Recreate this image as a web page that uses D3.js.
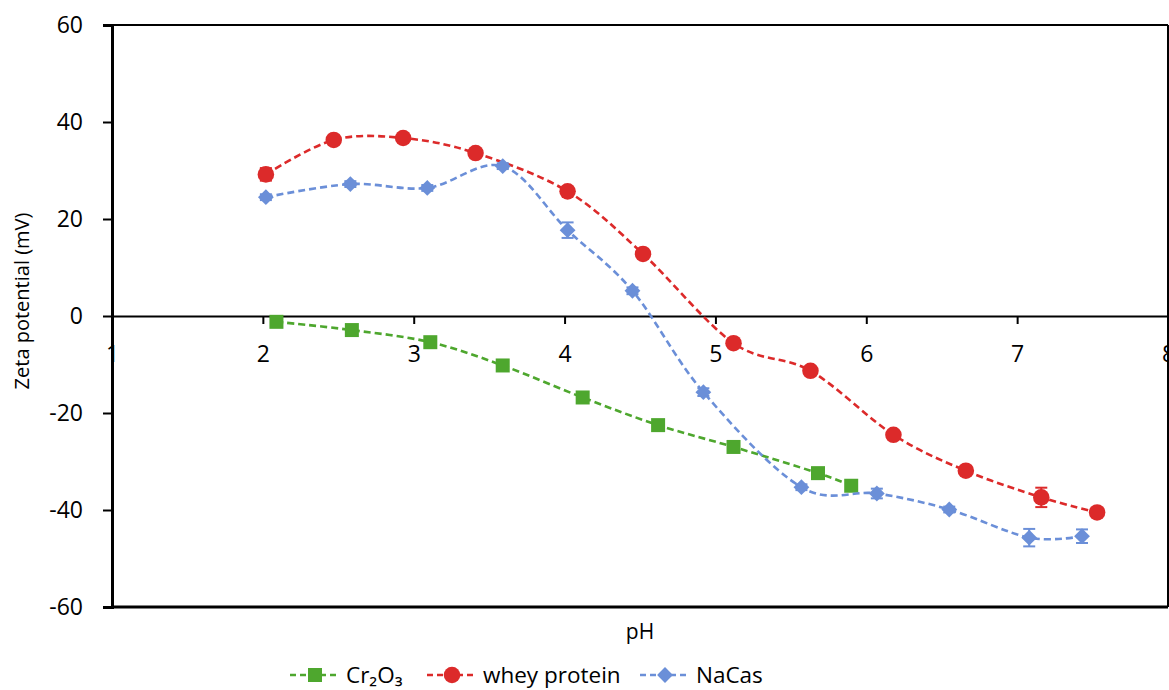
<!DOCTYPE html>
<html>
<head>
<meta charset="utf-8">
<script src="https://cdn.jsdelivr.net/npm/d3@7/dist/d3.min.js"></script>
<style>
  html, body { margin: 0; padding: 0; background: #fff; overflow: hidden; }
  svg { display: block; font-family: "Open Sans", "Noto Sans", sans-serif; }
</style>
</head>
<body>
<svg id="chart" width="1169" height="690"></svg>
<script>
// Zeta potential vs pH for three materials (mean ± SD)
const xTicks = [1, 2, 3, 4, 5, 6, 7, 8];
const yTicks = [-60, -40, -20, 0, 20, 40, 60];

const crPH   = [2.09, 2.59, 3.11, 3.59, 4.12, 4.62, 5.12, 5.68, 5.90];
const crZeta = [-1.2, -2.9, -5.4, -10.2, -16.8, -22.5, -27.0, -32.4, -35.0];
const crErr  = [0.6, 0.7, 0.8, 0.6, 0.7, 0.6, 0.6, 0.7, 0.6];

const wheyPH   = [2.02, 2.47, 2.93, 3.41, 4.02, 4.52, 5.12, 5.63, 6.18, 6.66, 7.16, 7.53];
const wheyZeta = [29.2, 36.3, 36.7, 33.6, 25.7, 12.8, -5.6, -11.3, -24.5, -31.9, -37.4, -40.5];
const wheyErr  = [1.3, 0.6, 0.6, 0.5, 0.6, 0.6, 0.6, 0.7, 0.6, 0.7, 2.0, 0.6];

const nacasPH   = [2.02, 2.58, 3.09, 3.59, 4.02, 4.45, 4.92, 5.57, 6.07, 6.55, 7.08, 7.43];
const nacasZeta = [24.5, 27.2, 26.4, 30.9, 17.7, 5.2, -15.7, -35.3, -36.6, -39.9, -45.7, -45.4];
const nacasErr  = [0.6, 0.6, 0.6, 0.6, 1.6, 0.7, 0.8, 0.6, 1.0, 0.6, 1.8, 1.4];

const seriesNames = ["Cr₂O₃", "whey protein", "NaCas"];

const series = [
  { name: seriesNames[0], x: crPH, y: crZeta, e: crErr, color: "#4ea72e", symbol: d3.symbolSquare, size: 196, rot: 0 },
  { name: seriesNames[1], x: wheyPH, y: wheyZeta, e: wheyErr, color: "#dc2a2a", symbol: d3.symbolCircle, size: 215, rot: 0 },
  { name: seriesNames[2], x: nacasPH, y: nacasZeta, e: nacasErr, color: "#6b8fd8", symbol: d3.symbolSquare, size: 125, rot: 45 }
];

const svg = d3.select("#chart");
const plotL = 112, plotR = 1168, plotT = 25, plotB = 607;

const x = d3.scaleLinear().domain([1, 8]).range([plotL, plotR]);
const y = d3.scaleLinear().domain([-60, 60]).range([plotB, plotT]);
const plain = d => String(d);

// Plot frame
svg.append("line").attr("x1", plotL).attr("x2", plotR).attr("y1", plotT).attr("y2", plotT)
  .attr("stroke", "#000").attr("stroke-width", 2);
svg.append("line").attr("x1", plotL).attr("x2", plotR).attr("y1", plotB).attr("y2", plotB)
  .attr("stroke", "#000").attr("stroke-width", 3);
svg.append("line").attr("x1", plotR).attr("x2", plotR).attr("y1", plotT).attr("y2", plotB)
  .attr("stroke", "#000").attr("stroke-width", 2);

// Y axis
const yAxis = d3.axisLeft(y).tickValues(yTicks).tickSize(9).tickPadding(20).tickFormat(plain);
const gy = svg.append("g").attr("transform", `translate(${plotL},0)`).call(yAxis);
gy.select(".domain").attr("stroke-width", 3);
gy.selectAll(".tick line").attr("stroke-width", 2);
gy.selectAll("text").attr("font-size", 23).attr("fill", "#000")
  .attr("font-family", "'Open Sans', sans-serif");

// X axis drawn along zero
const xAxis = d3.axisBottom(x).tickValues(xTicks).tickSize(8).tickSizeOuter(0).tickPadding(22).tickFormat(plain);
const gx = svg.append("g").attr("transform", `translate(0,${y(0)})`).call(xAxis);
gx.select(".domain").attr("stroke-width", 1.8);
gx.selectAll(".tick line").attr("stroke-width", 2);
gx.selectAll(".tick").filter(d => d === 1 || d === 8).select("line").remove();
gx.selectAll("text").attr("font-size", 23).attr("fill", "#000")
  .attr("font-family", "'Open Sans', sans-serif");

// Axis titles
svg.append("text")
  .attr("transform", `translate(29,${(plotT + plotB) / 2 - 15}) rotate(-90)`)
  .attr("text-anchor", "middle").attr("font-size", 20).text("Zeta potential (mV)");
svg.append("text").attr("x", 640).attr("y", 639)
  .attr("text-anchor", "middle").attr("font-size", 21).text("pH");

// Series: smoothed dashed lines, error bars, markers
const line = d3.line().curve(d3.curveCardinal.tension(0))
  .x(d => x(d[0])).y(d => y(d[1]));

series.forEach(s => {
  const pts = s.x.map((v, i) => [v, s.y[i], s.e[i]]);
  const g = svg.append("g");
  g.append("path").datum(pts).attr("d", line)
    .attr("fill", "none").attr("stroke", s.color).attr("stroke-width", 2.6)
    .attr("stroke-dasharray", "7,4");
  const eb = g.selectAll(".err").data(pts).join("g").attr("stroke", s.color).attr("stroke-width", 2);
  eb.append("line").attr("x1", d => x(d[0])).attr("x2", d => x(d[0]))
    .attr("y1", d => y(d[1] + d[2])).attr("y2", d => y(d[1] - d[2]));
  eb.append("line").attr("x1", d => x(d[0]) - 6).attr("x2", d => x(d[0]) + 6)
    .attr("y1", d => y(d[1] + d[2])).attr("y2", d => y(d[1] + d[2]));
  eb.append("line").attr("x1", d => x(d[0]) - 6).attr("x2", d => x(d[0]) + 6)
    .attr("y1", d => y(d[1] - d[2])).attr("y2", d => y(d[1] - d[2]));
  g.selectAll(".mark").data(pts).join("path")
    .attr("transform", d => `translate(${x(d[0])},${y(d[1])}) rotate(${s.rot})`)
    .attr("d", d3.symbol().type(s.symbol).size(s.size))
    .attr("fill", s.color);
});

// Legend
const legendY = 675;
const legendX = [290, 427, 640];
series.forEach((s, i) => {
  const g = svg.append("g").attr("transform", `translate(${legendX[i]},${legendY})`);
  g.append("line").attr("x1", 0).attr("x2", 50).attr("y1", 0).attr("y2", 0)
    .attr("stroke", s.color).attr("stroke-width", 2.6).attr("stroke-dasharray", "6,4");
  g.append("path").attr("transform", `translate(25,0) rotate(${s.rot})`)
    .attr("d", d3.symbol().type(s.symbol).size(s.size)).attr("fill", s.color);
  g.append("text").attr("x", 56).attr("y", 8).attr("font-size", 22.5).text(s.name);
});
</script>
</body>
</html>
